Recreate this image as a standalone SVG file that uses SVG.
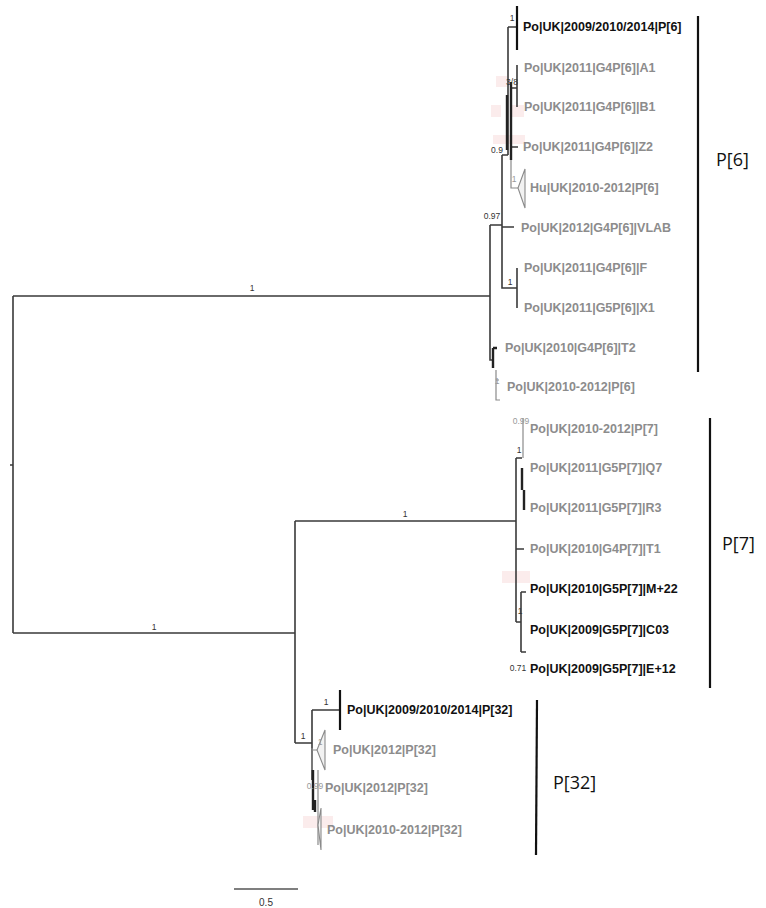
<svg xmlns="http://www.w3.org/2000/svg" width="766" height="908" viewBox="0 0 766 908">
<style>
.br{fill:none;stroke:#3a3a3a;stroke-width:1.6}
.gb{fill:none;stroke:#8a8a8a;stroke-width:1.2}
.tk{fill:none;stroke:#222;stroke-width:2.4}
.bar{stroke:#111;stroke-width:2.2}
.lb{font-family:"Liberation Sans",Arial,sans-serif;font-size:12.5px;font-weight:bold;fill:#111}
.lg{font-family:"Liberation Sans",Arial,sans-serif;font-size:12.5px;font-weight:bold;fill:#8c8c8c}
.sp{font-family:"Liberation Sans",Arial,sans-serif;font-size:8.5px;fill:#333}
.spg{font-family:"Liberation Sans",Arial,sans-serif;font-size:8.5px;fill:#999}
.cl{font-family:"Open Sans","Liberation Sans",sans-serif;font-size:18px;fill:#111}
.tri{fill:#f2f2f2;stroke:#8a8a8a;stroke-width:1.1}
.pk{fill:#fbecec}
</style>
<rect width="766" height="908" fill="#fff"/>
<g id="artifacts">
<rect class="pk" x="496" y="76" width="11" height="11"/>
<rect class="pk" x="491" y="105" width="10" height="12"/>
<rect class="pk" x="512" y="105" width="12" height="12"/>
<rect class="pk" x="493" y="135" width="32" height="9"/>
<rect class="pk" x="502" y="571" width="28" height="12"/>
<rect class="pk" x="303" y="816" width="30" height="12"/>
</g>
<g id="connectors">
<!-- root -->
<path class="br" d="M10,465 H13 M13,296 V633 M13,296 H490 M13,633 H295"/>
<!-- P6 clade -->
<path class="br" d="M490,225 V360 H494 M490,225 H502 M502,155 V288 H517 M517,268 V308 M502,227 H514 M502,155 H508 M508,27 V155 M508,27 H517 M511,88 H517 M517,65 V107 M511,147 H518"/>
<path class="tk" d="M511,82 V160 M507,95 V150"/>
<path class="bar" d="M517,6 V50"/>
<path class="tk" d="M493,348 V368 M493,348 H497"/>
<path class="gb" d="M511,160 V188 H520 M496,370 V400 H500 M496,380 H499"/>
<polygon id="tri-hu" class="tri" points="518,188 525,169 525,208"/>
<!-- P7 clade -->
<path class="br" d="M295,521 H516 M516,458 V622 M516,458 H522 M516,549 H524 M516,622 H521 M521,592 V652 M521,592 H526 M521,652 H526"/>
<path class="gb" d="M523,418 V458"/>
<path class="tk" d="M522,468 V490 M524,490 V510"/>
<!-- P32 clade -->
<path class="br" d="M295,521 V743 M295,743 H312 M312,710 V780 M312,710 H340"/>
<path class="bar" d="M340,690 V730"/>
<path class="gb" d="M312,748 V770 M312,750 H318 M318,770 V845"/>
<polygon id="tri-p32a" class="tri" points="317,750 325,730 325,770"/>
<polygon id="tri-p32b" class="tri" points="318,825 321,808 321,850"/>
<path class="tk" d="M313,770 V810 M315,800 V812"/>
</g>
<g id="support">
<text class="sp" x="252" y="291" text-anchor="middle">1</text>
<text class="sp" x="154" y="630" text-anchor="middle">1</text>
<text class="sp" x="405" y="517" text-anchor="middle">1</text>
<text class="sp" x="512" y="21" text-anchor="middle">1</text>
<text class="sp" x="512" y="85" text-anchor="middle">3/8</text>
<text class="sp" x="497" y="153" text-anchor="middle">0.9</text>
<text class="spg" x="514" y="182" text-anchor="middle">1</text>
<text class="sp" x="492" y="219" text-anchor="middle">0.97</text>
<text class="sp" x="510" y="285" text-anchor="middle">1</text>
<text class="spg" x="497" y="384" text-anchor="middle">1</text>
<text class="spg" x="521" y="424" text-anchor="middle">0.99</text>
<text class="sp" x="519" y="453" text-anchor="middle">1</text>
<text class="sp" x="520" y="614" text-anchor="middle">1</text>
<text class="sp" x="518" y="671" text-anchor="middle">0.71</text>
<text class="sp" x="326" y="705" text-anchor="middle">1</text>
<text class="sp" x="303" y="739" text-anchor="middle">1</text>
<text class="spg" x="320" y="745" text-anchor="middle">1</text>
<text class="spg" x="315" y="789" text-anchor="middle">0.99</text>
</g>
<g id="leaf-1"><text class="lb" x="523" y="31">Po|UK|2009/2010/2014|P[6]</text></g>
<g id="leaf-2"><text class="lg" x="524" y="72">Po|UK|2011|G4P[6]|A1</text></g>
<g id="leaf-3"><text class="lg" x="524" y="111">Po|UK|2011|G4P[6]|B1</text></g>
<g id="leaf-4"><text class="lg" x="523" y="151">Po|UK|2011|G4P[6]|Z2</text></g>
<g id="leaf-5"><text class="lg" x="530" y="192">Hu|UK|2010-2012|P[6]</text></g>
<g id="leaf-6"><text class="lg" x="521" y="232">Po|UK|2012|G4P[6]|VLAB</text></g>
<g id="leaf-7"><text class="lg" x="524" y="272">Po|UK|2011|G4P[6]|F</text></g>
<g id="leaf-8"><text class="lg" x="524" y="312">Po|UK|2011|G5P[6]|X1</text></g>
<g id="leaf-9"><text class="lg" x="505" y="352">Po|UK|2010|G4P[6]|T2</text></g>
<g id="leaf-10"><text class="lg" x="507" y="391">Po|UK|2010-2012|P[6]</text></g>
<g id="leaf-11"><text class="lg" x="530" y="433">Po|UK|2010-2012|P[7]</text></g>
<g id="leaf-12"><text class="lg" x="530" y="472">Po|UK|2011|G5P[7]|Q7</text></g>
<g id="leaf-13"><text class="lg" x="530" y="512">Po|UK|2011|G5P[7]|R3</text></g>
<g id="leaf-14"><text class="lg" x="530" y="553">Po|UK|2010|G4P[7]|T1</text></g>
<g id="leaf-15"><text class="lb" x="530" y="593">Po|UK|2010|G5P[7]|M+22</text></g>
<g id="leaf-16"><text class="lb" x="530" y="634">Po|UK|2009|G5P[7]|C03</text></g>
<g id="leaf-17"><text class="lb" x="530" y="673">Po|UK|2009|G5P[7]|E+12</text></g>
<g id="leaf-18"><text class="lb" x="347" y="714">Po|UK|2009/2010/2014|P[32]</text></g>
<g id="leaf-19"><text class="lg" x="333" y="754">Po|UK|2012|P[32]</text></g>
<g id="leaf-20"><text class="lg" x="325" y="792">Po|UK|2012|P[32]</text></g>
<g id="leaf-21"><text class="lg" x="327" y="834">Po|UK|2010-2012|P[32]</text></g>
<g id="clade-P6"><line class="bar" x1="698" y1="16" x2="698" y2="372"/><text class="cl" x="716" y="166">P[6]</text></g>
<g id="clade-P7"><line class="bar" x1="710" y1="418" x2="710" y2="688"/><text class="cl" x="722" y="550">P[7]</text></g>
<g id="clade-P32"><line class="bar" x1="537" y1="700" x2="536" y2="855"/><text class="cl" x="553" y="789">P[32]</text></g>
<g id="scale"><line x1="234" y1="889" x2="298" y2="889" stroke="#555" stroke-width="1.6"/><text x="266" y="906" text-anchor="middle" font-family="Liberation Sans,Arial,sans-serif" font-size="10" fill="#333">0.5</text></g>
</svg>
